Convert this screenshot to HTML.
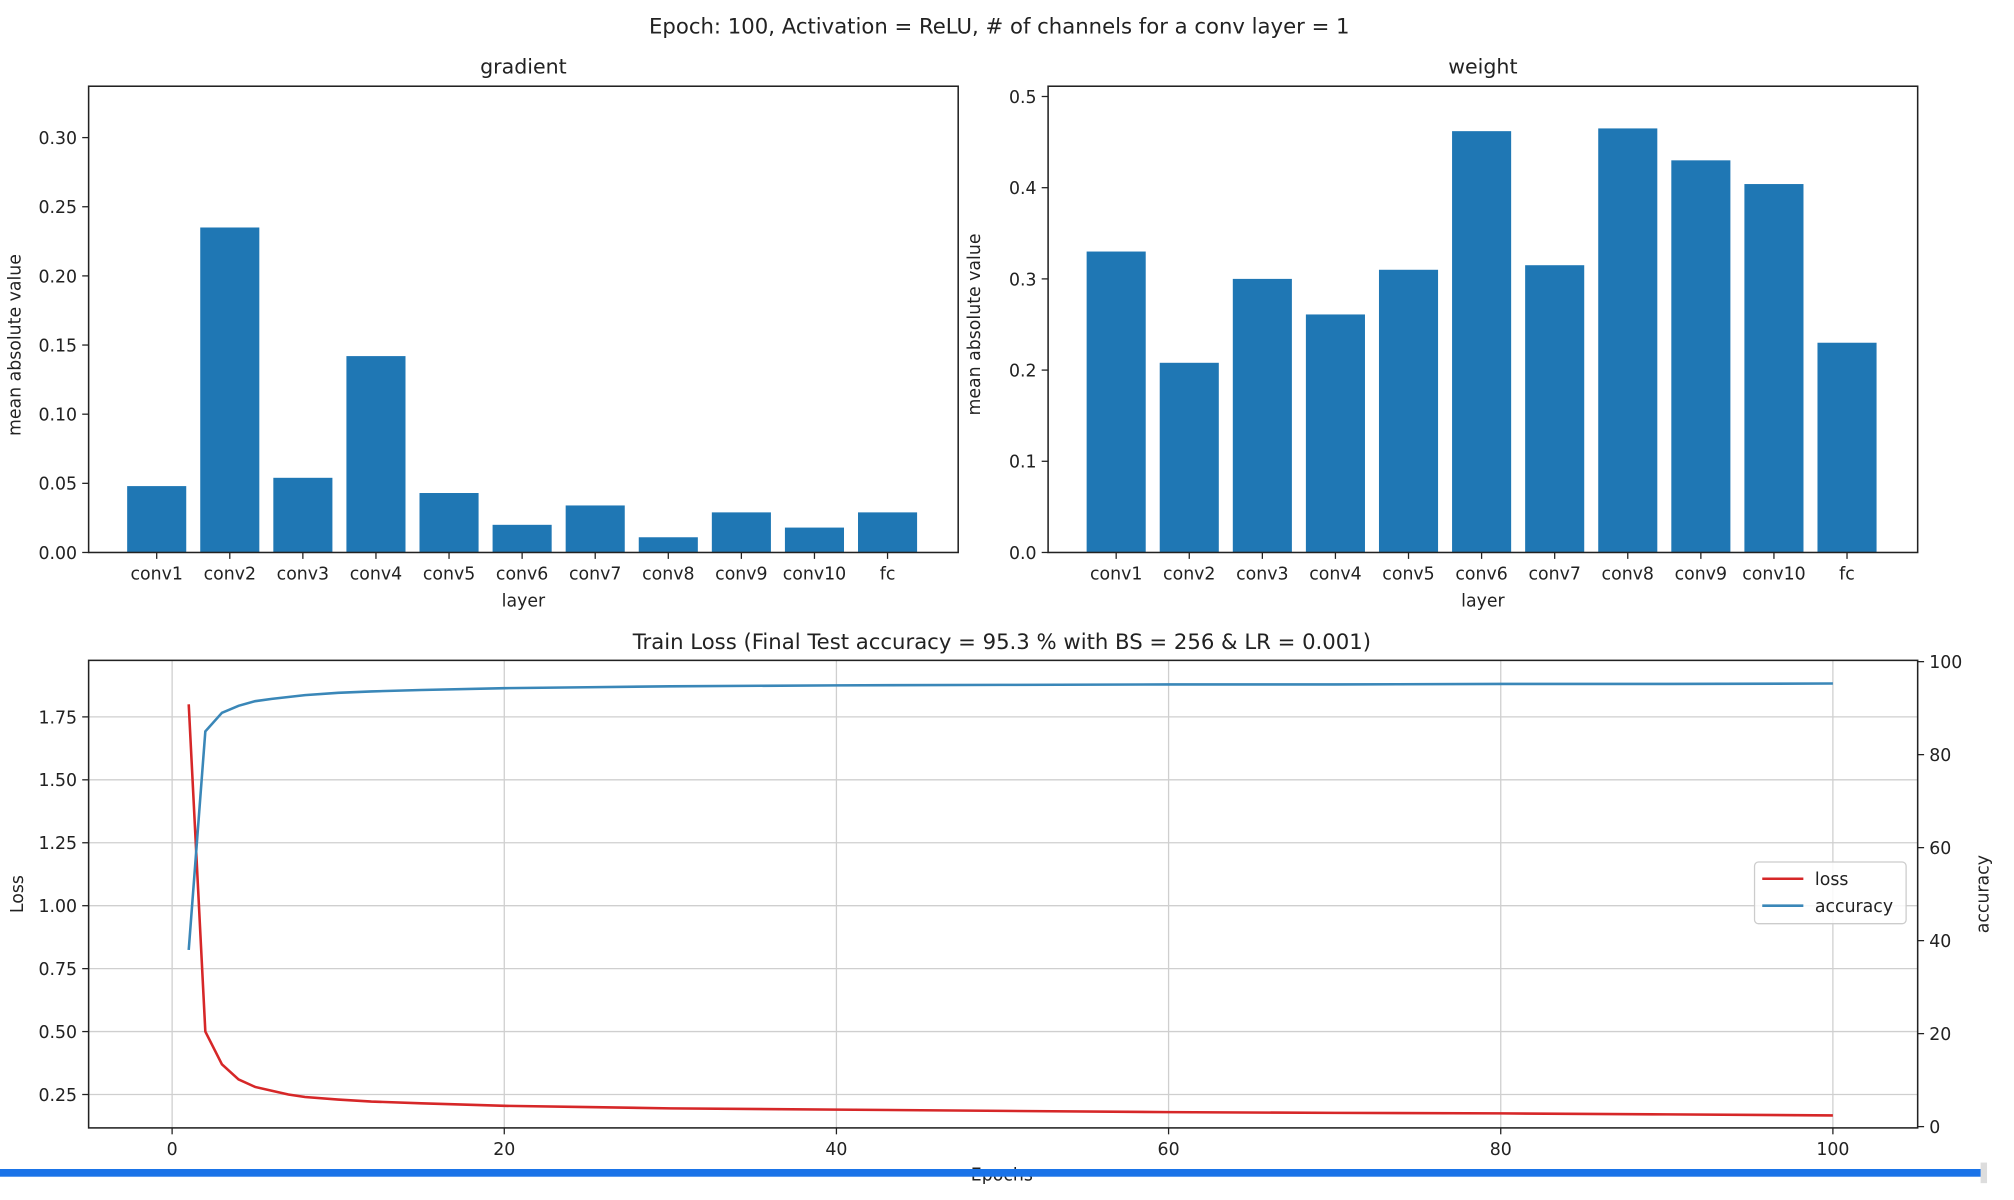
<!DOCTYPE html>
<html><head><meta charset="utf-8"><style>
html,body{margin:0;padding:0;background:#fff;}
svg{display:block;font-family:"DejaVu Sans","Liberation Sans",sans-serif;}
</style></head><body>
<svg id="fig" width="2014" height="1200" viewBox="0 0 1568 934" xmlns="http://www.w3.org/2000/svg">
<rect width="1568" height="934" fill="#fff"/>
<text x="778" y="26" font-size="16.5" text-anchor="middle" fill="#222">Epoch: 100, Activation = ReLU, # of channels for a conv layer = 1</text>
<g id="g1"></g><g id="g2"></g><g id="g3"></g>
<rect x="0" y="910" width="1545" height="6" fill="#1a73e8"/>
<rect x="1542" y="905" width="5" height="16" fill="#ddd"/>
</svg>
<script>
const layers=["conv1","conv2","conv3","conv4","conv5","conv6","conv7","conv8","conv9","conv10","fc"];
const gradVals=[0.048,0.235,0.054,0.142,0.043,0.020,0.034,0.011,0.029,0.018,0.029];
const weightVals=[0.330,0.208,0.300,0.261,0.310,0.462,0.315,0.465,0.430,0.404,0.230];
const gradTicks=[0,0.05,0.10,0.15,0.20,0.25,0.30];
const weightTicks=[0,0.1,0.2,0.3,0.4,0.5];
const epochs=[1,2,3,4,5,6,7,8,10,12,15,20,25,30,40,50,60,70,80,90,100];
const lossVals=[1.80,0.50,0.37,0.31,0.28,0.265,0.25,0.24,0.23,0.222,0.215,0.205,0.2,0.195,0.19,0.185,0.18,0.177,0.175,0.171,0.167];
const accVals=[38,85,89,90.5,91.5,92,92.4,92.8,93.3,93.6,93.9,94.3,94.5,94.7,94.9,95.0,95.1,95.1,95.2,95.2,95.3];
const xTicks=[0,20,40,60,80,100];
const lossTicks=[0.25,0.5,0.75,1.0,1.25,1.5,1.75];
const accTicks=[0,20,40,60,80,100];
const NS="http://www.w3.org/2000/svg";
function mk(p,tag,a,txt){const e=document.createElementNS(NS,tag);for(const k in a)e.setAttribute(k,a[k]);if(txt!==undefined)e.textContent=txt;p.appendChild(e);return e;}
function barChart(g,x0,x1,y0,y1,vals,ticks,ymax,dec,title,c0,step){
  const ys=v=>y0-(v/ymax)*(y0-y1);
  const t=mk(g,'text',{x:(x0+x1)/2,y:57,'font-size':16,'text-anchor':'middle',fill:'#222'},title);
  
  
  vals.forEach((v,i)=>{const cx=c0+i*step;
    const r=mk(g,'rect',{x:cx-23,y:ys(v),width:46,height:y0-ys(v),fill:'#1f77b4'});
    
    
    mk(g,'line',{x1:cx,x2:cx,y1:y0,y2:y0+5,stroke:'#222'});
    const l=mk(g,'text',{x:cx,y:y0+21,'font-size':13.5,'text-anchor':'middle',fill:'#222'},layers[i]);
    
    
  });
  ticks.forEach(v=>{const y=ys(v);mk(g,'line',{x1:x0-5,x2:x0,y1:y,y2:y,stroke:'#222'});
    const l=mk(g,'text',{x:x0-9,y:y+5,'font-size':13.5,'text-anchor':'end',fill:'#222'},v.toFixed(dec));
    
    });
  const f=mk(g,'rect',{x:x0,y:67,width:x1-x0,height:y0-67,fill:'none',stroke:'#222','stroke-width':1.2});
  
  
  const xl=mk(g,'text',{x:(x0+x1)/2,y:472,'font-size':13.5,'text-anchor':'middle',fill:'#222'},'layer');
  
  
  const yl=mk(g,'text',{x:0,y:0,'font-size':13.5,'text-anchor':'middle',fill:'#222',transform:`translate(${x0-53},${(y0+y1)/2}) rotate(-90)`},'mean absolute value');
  
  
}
barChart(document.getElementById('g1'),69,746,430,107,gradVals,gradTicks,0.30,2,'gradient',122,56.9);
barChart(document.getElementById('g2'),816,1493,430,75,weightVals,weightTicks,0.5,1,'weight',869,56.9);
const g=document.getElementById('g3');
const X0=69,X1=1493,Y0=878,Y1=514;
const xs=e=>134+e*12.93;
const yl=v=>558+(1.75-v)/0.25*49;
const ya=v=>877-v*3.62;
const tt=mk(g,'text',{x:780,y:505,'font-size':16.5,'text-anchor':'middle',fill:'#222'},'Train Loss (Final Test accuracy = 95.3 % with BS = 256 & LR = 0.001)');


xTicks.forEach(v=>{const x=xs(v);mk(g,'line',{x1:x,x2:x,y1:Y1,y2:Y0,stroke:'#cfcfcf'});mk(g,'line',{x1:x,x2:x,y1:Y0,y2:Y0+5,stroke:'#222'});
  const l=mk(g,'text',{x:x,y:Y0+21,'font-size':13.5,'text-anchor':'middle',fill:'#222'},v);
  
  });
lossTicks.forEach(v=>{const y=yl(v);mk(g,'line',{x1:X0,x2:X1,y1:y,y2:y,stroke:'#cfcfcf'});mk(g,'line',{x1:X0-5,x2:X0,y1:y,y2:y,stroke:'#222'});
  const l=mk(g,'text',{x:X0-9,y:y+5,'font-size':13.5,'text-anchor':'end',fill:'#222'},v.toFixed(2));
  
  });
accTicks.forEach(v=>{const y=ya(v);mk(g,'line',{x1:X1,x2:X1+5,y1:y,y2:y,stroke:'#222'});
  const l=mk(g,'text',{x:X1+9,y:y+5,'font-size':13.5,'text-anchor':'start',fill:'#222'},v);
  
  });
const lp=mk(g,'polyline',{points:epochs.map((e,i)=>xs(e)+','+yl(lossVals[i])).join(' '),fill:'none',stroke:'#d62728','stroke-width':2});


const ap=mk(g,'polyline',{points:epochs.map((e,i)=>xs(e)+','+ya(accVals[i])).join(' '),fill:'none',stroke:'#3a87b8','stroke-width':2});


const fr=mk(g,'rect',{x:X0,y:Y1,width:X1-X0,height:Y0-Y1,fill:'none',stroke:'#222','stroke-width':1.2});


const ly=mk(g,'text',{x:0,y:0,'font-size':13.5,'text-anchor':'middle',fill:'#222',transform:`translate(18,696) rotate(-90)`},'Loss');


const ay=mk(g,'text',{x:0,y:0,'font-size':13.5,'text-anchor':'middle',fill:'#222',transform:`translate(1548,696) rotate(-90)`},'accuracy');


const ex=mk(g,'text',{x:780,y:919,'font-size':13.5,'text-anchor':'middle',fill:'#222'},'Epochs');


const lg=mk(g,'g',{});


mk(lg,'rect',{x:1366,y:671,width:118,height:48,rx:3,fill:'#fff','fill-opacity':0.85,stroke:'#ccc'});
mk(lg,'line',{x1:1372,x2:1404,y1:684,y2:684,stroke:'#d62728','stroke-width':2});
const le1=mk(lg,'text',{x:1413,y:689,'font-size':13.5,fill:'#222'},'loss');


mk(lg,'line',{x1:1372,x2:1404,y1:705,y2:705,stroke:'#3a87b8','stroke-width':2});
const le2=mk(lg,'text',{x:1413,y:710,'font-size':13.5,fill:'#222'},'accuracy');


</script>
</body></html>
